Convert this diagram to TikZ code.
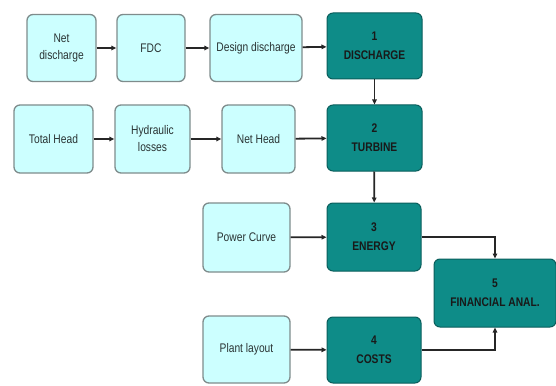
\documentclass[tikz,border=0pt]{standalone}
\usepackage{fontspec}
\setmainfont[FakeStretch=0.82]{Liberation Sans}
\usetikzlibrary{arrows.meta}
\definecolor{lightbox}{HTML}{CCFFFF}
\definecolor{lightborder}{HTML}{7F8C8C}
\definecolor{darkbox}{HTML}{0E8C88}
\definecolor{darkborder}{HTML}{0A5E5C}
\definecolor{txt}{HTML}{2A3434}
\tikzset{
  inbox/.style={draw=lightborder, fill=lightbox, line width=1.3pt, rounded corners=6pt,
    minimum height=67pt, align=center, text=txt, font=\fontsize{12.5}{17}\selectfont, inner sep=1pt},
  mainbox/.style={draw=darkborder, fill=darkbox, line width=1pt, rounded corners=6pt,
    minimum width=95pt, minimum height=66pt, align=center, text=black!90, font=\bfseries\fontsize{12.5}{19}\selectfont, inner sep=1pt},
  flow/.style={-{Triangle[length=5pt,width=4.5pt]}, line width=1.8pt, draw=black!85}
}
\begin{document}
\begin{tikzpicture}[x=1pt,y=-1pt]
\useasboundingbox (0,0) rectangle (556,385);
\fill[white] (0,0) rectangle (556,385);
\node[inbox, minimum width=69pt] (nd) at (61.5,48) {Net\\discharge};
\node[inbox, minimum width=68pt] (fdc) at (151,48) {FDC};
\node[inbox, minimum width=92pt] (dd) at (256,48) {Design discharge};
\node[mainbox] (d1) at (374.5,46) {1\\DISCHARGE};
\node[inbox, minimum width=79pt, minimum height=68pt] (th) at (53.5,139) {Total Head};
\node[inbox, minimum width=75pt, minimum height=68pt] (hl) at (152.5,139) {Hydraulic\\losses};
\node[inbox, minimum width=73pt, minimum height=68pt] (nh) at (258.5,139) {Net Head};
\node[mainbox] (t2) at (374.5,138) {2\\TURBINE};
\node[inbox, minimum width=87pt, minimum height=69pt] (pc) at (246.5,237.5) {Power Curve};
\node[mainbox, minimum width=94pt, minimum height=68pt] (e3) at (374,237) {3\\ENERGY};
\node[mainbox, minimum width=122pt, minimum height=68pt] (f5) at (495,293) {5\\FINANCIAL ANAL.};
\node[inbox, minimum width=87pt] (pl) at (246.5,349.5) {Plant layout};
\node[mainbox, minimum width=94pt] (c4) at (374,350) {4\\COSTS};
\draw[flow] (nd) -- (fdc);
\draw[flow] (fdc) -- (dd);
\draw[flow] (dd) -- (d1);
\draw[flow] (th) -- (hl);
\draw[flow] (hl) -- (nh);
\draw[flow] (nh) -- (t2);
\draw[flow] (d1) -- (t2);
\draw[flow] (t2) -- (e3);
\draw[flow] (pc) -- (e3);
\draw[flow] (pl) -- (c4);
\draw[flow] (e3.east) -| (f5.north);
\draw[flow] (c4.east) -| (f5.south);
\end{tikzpicture}
\end{document}
